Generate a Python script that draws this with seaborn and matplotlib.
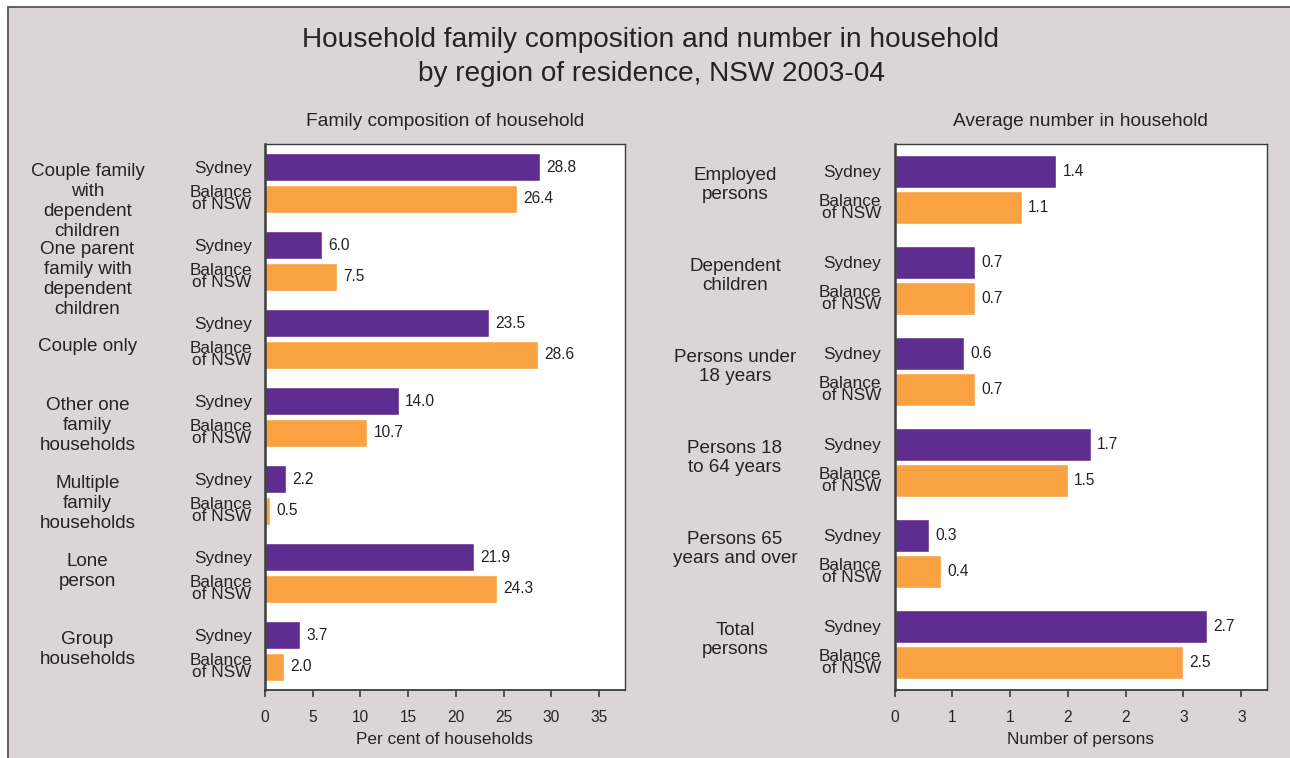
import matplotlib
matplotlib.use("Agg")
import matplotlib.pyplot as plt
from matplotlib.patches import Rectangle
from matplotlib.ticker import FixedLocator, FixedFormatter
import seaborn as sns
import pandas as pd

# ---- data -------------------------------------------------------------
regions = ["Sydney", "Balance\nof NSW"]

family_types = [
    "Couple family\nwith\ndependent\nchildren",
    "One parent\nfamily with\ndependent\nchildren",
    "Couple only",
    "Other one\nfamily\nhouseholds",
    "Multiple\nfamily\nhouseholds",
    "Lone\nperson",
    "Group\nhouseholds",
]
family_sydney = [28.8, 6.0, 23.5, 14.0, 2.2, 21.9, 3.7]
family_balance = [26.4, 7.5, 28.6, 10.7, 0.5, 24.3, 2.0]
family_ticks = [0, 5, 10, 15, 20, 25, 30, 35]
family_ticklabels = ["0", "5", "10", "15", "20", "25", "30", "35"]

person_types = [
    "Employed\npersons",
    "Dependent\nchildren",
    "Persons under\n18 years",
    "Persons 18\nto 64 years",
    "Persons 65\nyears and over",
    "Total\npersons",
]
persons_sydney = [1.4, 0.7, 0.6, 1.7, 0.3, 2.7]
persons_balance = [1.1, 0.7, 0.7, 1.5, 0.4, 2.5]
person_ticks = [0, 0.5, 1.0, 1.5, 2.0, 2.5, 3.0]
person_ticklabels = ["0", "1", "1", "2", "2", "3", "3"]

# ---- style ------------------------------------------------------------
PURPLE = "#5e2d8f"
ORANGE = "#f9a242"
PANEL_BG = "#dbd5d8"
INK = "#262223"
EDGE = "#3c3c3c"

sns.set_theme(style="white")
plt.rcParams["font.family"] = ["Liberation Sans", "DejaVu Sans"]
plt.rcParams["text.color"] = INK
plt.rcParams["axes.labelcolor"] = INK
plt.rcParams["xtick.color"] = INK
plt.rcParams["ytick.color"] = INK

W, H = 1290, 758
fig = plt.figure(figsize=(W / 100, H / 100), dpi=100, facecolor="white")

# grey framed background panel
fig.add_artist(Rectangle((8 / W, -0.05), 1.2, 1 - 7 / H + 0.05,
                         transform=fig.transFigure, facecolor=PANEL_BG,
                         edgecolor="#555555", lw=1.3, zorder=-10))


def long_table(cats, syd, bal):
    rows = []
    for c, a, b in zip(cats, syd, bal):
        rows.append({"category": c, "region": regions[0], "value": a})
        rows.append({"category": c, "region": regions[1], "value": b})
    return pd.DataFrame(rows)


def panel(rect, cats, syd, bal, xmax, ticks, ticklabels, xlabel, subtitle,
          group_x):
    ax = fig.add_axes(rect)
    df = long_table(cats, syd, bal)
    sns.barplot(data=df, y="category", x="value", hue="region",
                hue_order=regions, order=cats, orient="h",
                palette=[PURPLE, ORANGE], width=0.8, gap=0.1,
                saturation=1, legend=False, ax=ax)
    ax.set_facecolor("white")
    ax.set_xlim(0, xmax)
    ax.set_ylim(len(cats) - 0.5, -0.5)

    # region labels on the bars, value labels at bar ends
    centers, names = [], []
    for region, cont in zip(regions, ax.containers):
        for bar in cont:
            yc = bar.get_y() + bar.get_height() / 2
            centers.append(yc)
            names.append(region)
            ax.annotate(f"{bar.get_width():.1f}", (bar.get_width(), yc),
                        xytext=(4.5, 0), textcoords="offset points",
                        va="center", ha="left", fontsize=11.2, color=INK)
    ax.yaxis.set_major_locator(FixedLocator(centers))
    ax.yaxis.set_major_formatter(FixedFormatter(names))
    ax.tick_params(axis="y", length=0, pad=9.5, labelsize=12.4)
    for lab in ax.get_yticklabels():
        lab.set_linespacing(0.72)
        lab.set_ha("right")

    ax.xaxis.set_major_locator(FixedLocator(ticks))
    ax.xaxis.set_major_formatter(FixedFormatter(ticklabels))
    ax.tick_params(axis="x", bottom=True, direction="out", length=5,
                   width=1.2, pad=9.5, labelsize=11.2, color=EDGE)
    ax.set_xlabel(xlabel, fontsize=12.4, labelpad=5)
    ax.set_ylabel("")

    for side, sp in ax.spines.items():
        sp.set_visible(True)
        sp.set_color(EDGE)
        sp.set_linewidth(1.0)
    ax.spines["left"].set_linewidth(1.8)
    ax.spines["bottom"].set_linewidth(1.3)

    # group labels, first line aligned near the top of each group
    ytr = ax.get_yaxis_transform()
    for i, c in enumerate(cats):
        if "\n" in c:
            ax.text(group_x, i - 0.5 + 0.25, c, transform=ytr, ha="center",
                    va="top", fontsize=13.6, linespacing=1.21)
        else:
            ax.text(group_x, i + 0.1, c, transform=ytr, ha="center",
                    va="center", fontsize=13.6)

    ax.text(0.5, 1 + 22 / (rect[3] * H), subtitle, transform=ax.transAxes,
            ha="center", va="center", fontsize=13.8)
    return ax


bottom = 1 - 690 / H
height = (690 - 144) / H

panel([265 / W, bottom, (624.5 - 265) / W, height],
      family_types, family_sydney, family_balance, 37.65,
      family_ticks, family_ticklabels, "Per cent of households",
      "Family composition of household", (87.5 - 265) / 359.5)

panel([894.5 / W, bottom, (1267.3 - 894.5) / W, height],
      person_types, persons_sydney, persons_balance, 3.225,
      person_ticks, person_ticklabels, "Number of persons",
      "Average number in household", (735 - 894.5) / 372.8)

fig.text(651 / W, 1 - 40 / H, "Household family composition and number in household",
         ha="center", va="center", fontsize=20.2)
fig.text(651 / W, 1 - 74 / H, "by region of residence, NSW 2003-04",
         ha="center", va="center", fontsize=20.2)

fig.savefig("out.png", dpi=100, facecolor="white")
